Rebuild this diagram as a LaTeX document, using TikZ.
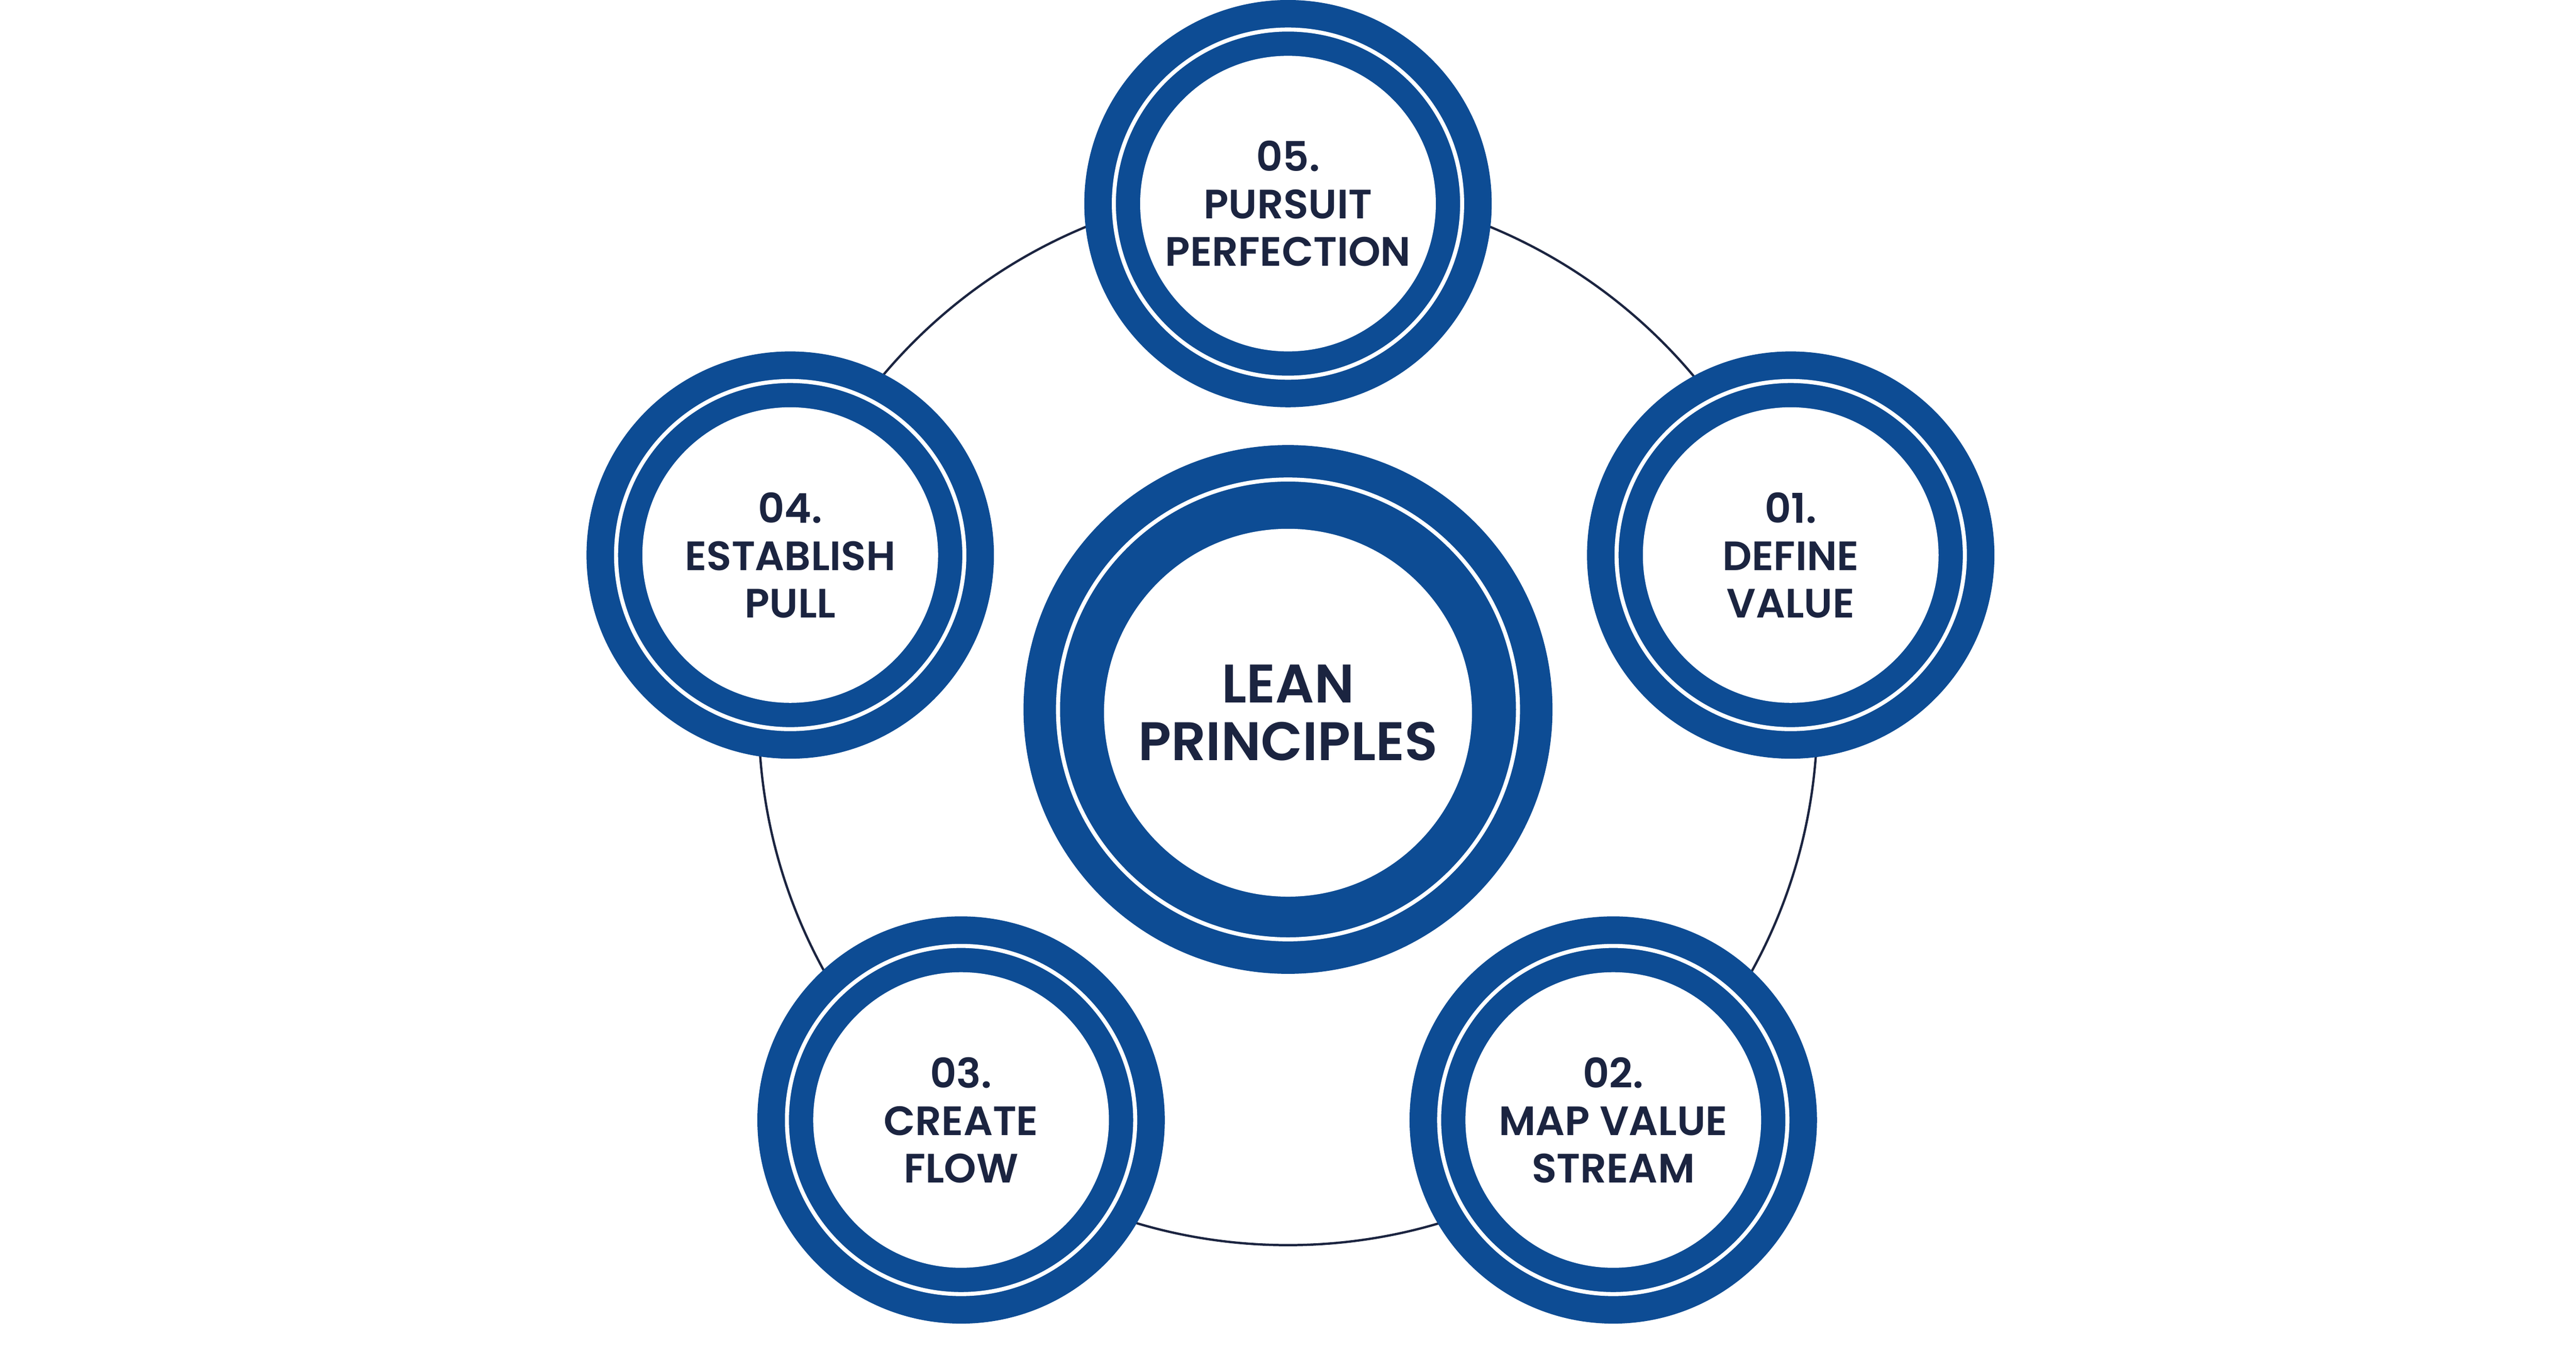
\documentclass[tikz,border=0pt]{standalone}
\usepackage{fontspec}
\setmainfont{Poppins}[BoldFont={* SemiBold}]
\definecolor{lblue}{HTML}{0D4C94}
\definecolor{ltext}{HTML}{1B2440}
\begin{document}
\begin{tikzpicture}[x=0.01cm,y=-0.01cm,
  outer/.style={circle,fill=lblue,minimum size=#1*0.01cm,inner sep=0pt},
  ring/.style={circle,draw=white,line width=0.7pt,minimum size=#1*0.01cm,inner sep=0pt},
  core/.style={circle,fill=white,minimum size=#1*0.01cm,inner sep=0pt,text=ltext,font=\bfseries\fontsize{7.1}{8.2}\selectfont,align=center}]
\useasboundingbox (0,0) rectangle (1568,825);
\fill[white] (0,0) rectangle (1568,825);
\node[circle,draw=ltext,line width=0.4pt,minimum size=6.44cm,inner sep=0pt] (orbit) at (784,436) {};
% centre
\node[outer=322] (co) at (784,432) {};
\node[ring=280] (cr) at (784,432) {};
\node[core=224,font=\bfseries\fontsize{9.4}{10}\selectfont] (c) at (784,434) {LEAN\\PRINCIPLES};
% satellites
\foreach \n/\x/\y/\t in {p5/784/124/{05.\\PURSUIT\\PERFECTION},p1/1090/338/{01.\\DEFINE\\VALUE},p4/481/338/{04.\\ESTABLISH\\PULL},p3/585/682/{03.\\CREATE\\FLOW},p2/982/682/{02.\\MAP VALUE\\STREAM}}{
  \node[outer=248] (\n o) at (\x,\y) {};
  \node[ring=212] (\n r) at (\x,\y) {};
  \node[core=180] (\n) at (\x,\y) {\t};
}
\end{tikzpicture}
\end{document}
